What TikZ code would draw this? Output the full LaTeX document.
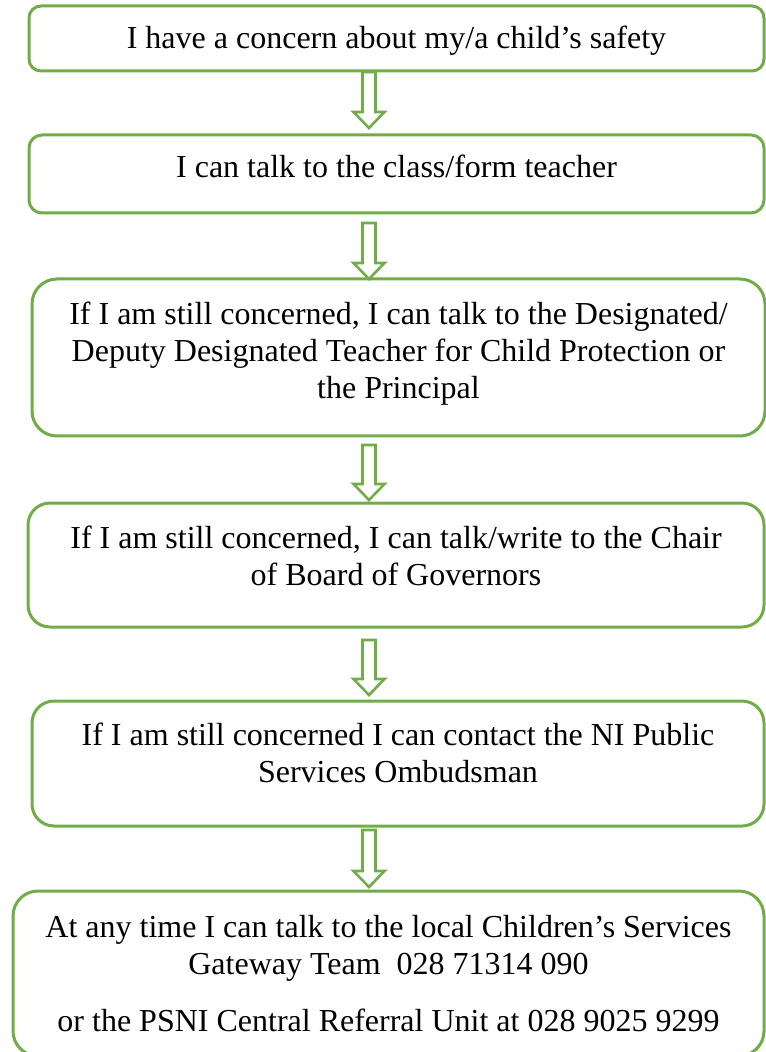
\documentclass[tikz,border=0pt]{standalone}
\usepackage{fontspec}
\setmainfont{Liberation Serif}
\usetikzlibrary{calc}
\definecolor{boxgreen}{HTML}{70AD47}

% hollow block arrow from #1 (top) down to #2 (tip)
\newcommand{\hollowarrow}[2]{%
  \draw[arrowline] let \p1=(#1), \p2=(#2) in
    (\x1-3.25pt,\y1) -- (\x1-3.25pt,\y2+8pt) -- (\x1-7.75pt,\y2+8pt) -- (\x2,\y2)
    -- (\x1+7.75pt,\y2+8pt) -- (\x1+3.25pt,\y2+8pt) -- (\x1+3.25pt,\y1) -- cycle;}

\begin{document}
\begin{tikzpicture}[x=0.5pt, y=-0.5pt,
    stepbox/.style={draw=boxgreen, line width=1.5pt, inner sep=0pt, outer sep=0pt},
    steptext/.style={anchor=north, align=center, inner sep=0pt, font=\fontsize{16}{18.3}\selectfont},
    arrowline/.style={draw=boxgreen, line width=1.3pt, line join=miter}]
    \useasboundingbox (0,0) rectangle (765,1052);

    % Draw the boxes
    \node[stepbox, rounded corners=6pt, minimum width=367.5pt, minimum height=32.5pt] (b1) at (396.5,38.5) {};
    \node[stepbox, rounded corners=6.5pt, minimum width=367.5pt, minimum height=39pt] (b2) at (396.5,174) {};
    \node[stepbox, rounded corners=12.5pt, minimum width=366.5pt, minimum height=78.5pt] (b3) at (398.5,357.5) {};
    \node[stepbox, rounded corners=11pt, minimum width=368pt, minimum height=62pt] (b4) at (396,565) {};
    \node[stepbox, rounded corners=11pt, minimum width=366pt, minimum height=62.5pt] (b5) at (398,763.5) {};
    \node[stepbox, rounded corners=12.5pt, minimum width=375.5pt, minimum height=82.5pt] (b6) at (388.5,973.5) {};

    % Text in the boxes
    \node[steptext] (t1) at ($(b1.north)+(0,20)$) {I have a concern about my/a child’s safety};
    \node[steptext] (t2) at ($(b2.north)+(0,20)$) {I can talk to the class/form teacher};
    \node[steptext] (t3) at ($(b3.north)+(0,23)$) {If I am still concerned, I can talk to the Designated/\\Deputy Designated Teacher for Child Protection or\\the Principal};
    \node[steptext] (t4) at ($(b4.north)+(0,23)$) {If I am still concerned, I can talk/write to the Chair\\of Board of Governors};
    \node[steptext] (t5) at ($(b5.north)+(0,22)$) {If I am still concerned I can contact the NI Public\\Services Ombudsman};
    \node[steptext] (t6) at ($(b6.north)+(0,24)$) {At any time I can talk to the local Children’s Services\\Gateway Team~ 028 71314 090\\[10.5pt]or the PSNI Central Referral Unit at 028 9025 9299};

    % Draw the arrows
    \coordinate (ax) at (369,0);
    \foreach \src/\dst/\topgap/\tipgap in {b1/b2/1/7, b2/b3/10/0, b3/b4/9/3, b4/b5/13/6, b5/b6/4/4}
        \hollowarrow{$(\src.south -| ax)+(0,\topgap)$}{$(\dst.north -| ax)+(0,-\tipgap)$};
\end{tikzpicture}
\end{document}
